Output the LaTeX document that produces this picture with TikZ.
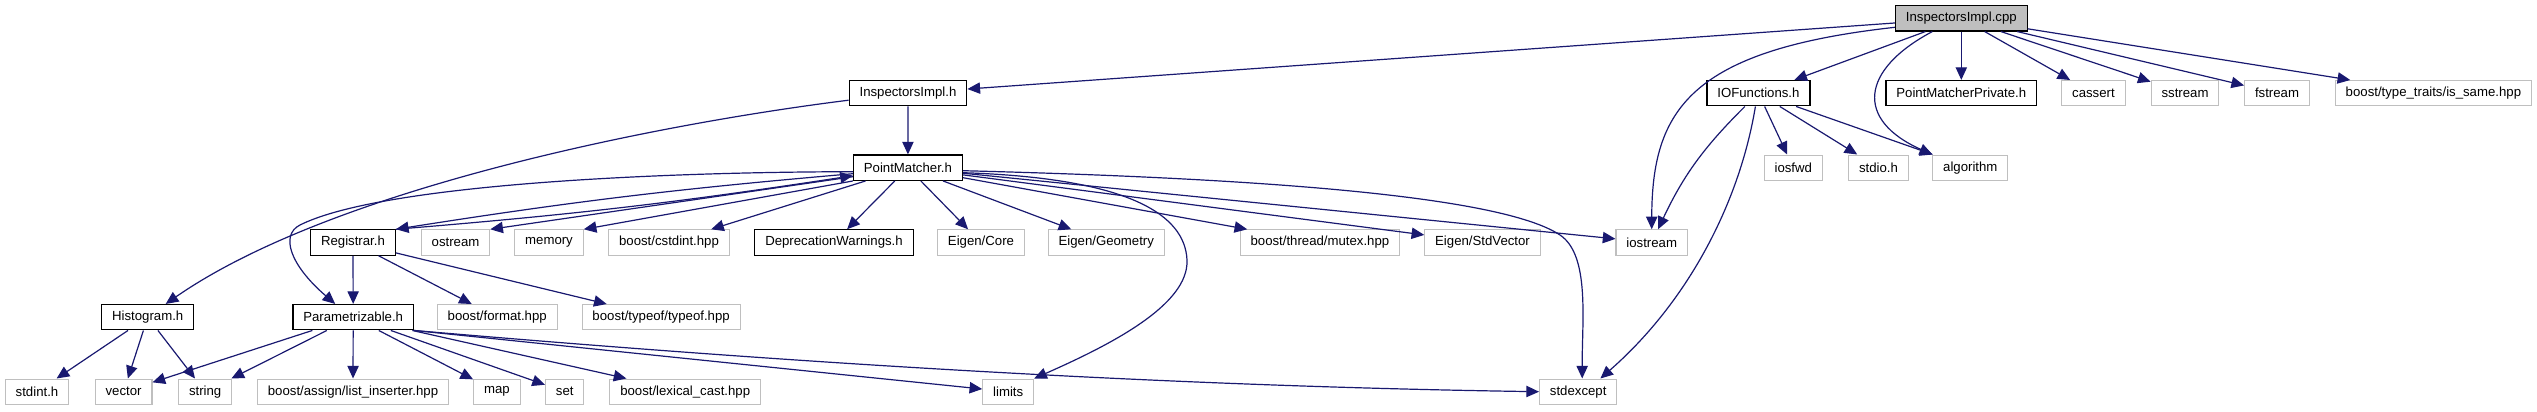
\documentclass[tikz,border=0pt]{standalone}
\usepackage{fontspec}
\setmainfont{Liberation Sans}
\usetikzlibrary{arrows.meta,calc}
\definecolor{incblue}{HTML}{191970}
\definecolor{sysgray}{HTML}{BFBFBF}

\begin{document}
\begin{tikzpicture}[x=0.75pt, y=-0.75pt,
		hdr/.style={draw=black, line width=0.9pt, fill=white, text=black, inner xsep=7.8pt, inner ysep=0pt, minimum height=19pt, font=\fontsize{9.9}{12}\selectfont},
		syshdr/.style={hdr, draw=sysgray, line width=0.8pt},
		srcfile/.style={hdr, fill=sysgray},
		inc/.style={draw=incblue, line width=0.9pt, -{Triangle[length=9.5pt, width=8.5pt]}}]
			\useasboundingbox (0,0) rectangle (2537,411);

			% Define nodes with their coordinates
			\node[srcfile] (cpp) at (1961.3, 18.3) {InspectorsImpl.cpp};

			\node[hdr] (ih) at (908, 93.2) {InspectorsImpl.h};
			\node[hdr] (iof) at (1758.4, 93.2) {IOFunctions.h};
			\node[hdr] (pmp) at (1961.3, 93.2) {PointMatcherPrivate.h};
			\node[syshdr] (cassert) at (2093.4, 93.2) {cassert};
			\node[syshdr] (sstream) at (2185, 93.2) {sstream};
			\node[syshdr] (fstream) at (2277, 93.2) {fstream};
			\node[syshdr] (issame) at (2433.4, 93.2) {boost/type\_traits/is\_same.hpp};

			\node[hdr] (pm) at (907.9, 167.7) {PointMatcher.h};
			\node[syshdr] (iosfwd) at (1793.3, 167.7) {iosfwd};
			\node[syshdr] (stdio) at (1878.5, 167.7) {stdio.h};
			\node[syshdr] (alg) at (1970.3, 167.7) {algorithm};

			\node[hdr] (reg) at (353, 242.5) {Registrar.h};
			\node[syshdr] (ostream) at (455.5, 242.5) {ostream};
			\node[syshdr] (memory) at (549, 242.5) {memory};
			\node[syshdr] (cstdint) at (669, 242.5) {boost/cstdint.hpp};
			\node[hdr] (depr) at (834, 242.5) {DeprecationWarnings.h};
			\node[syshdr] (ecore) at (981, 242.5) {Eigen/Core};
			\node[syshdr] (egeom) at (1106.3, 242.5) {Eigen/Geometry};
			\node[syshdr] (mutex) at (1319.9, 242.5) {boost/thread/mutex.hpp};
			\node[syshdr] (stdvec) at (1482.5, 242.5) {Eigen/StdVector};
			\node[syshdr] (ios) at (1651.7, 242.5) {iostream};

			\node[hdr] (hist) at (147.7, 317.2) {Histogram.h};
			\node[hdr] (param) at (353.2, 317.2) {Parametrizable.h};
			\node[syshdr] (format) at (497.2, 317.2) {boost/format.hpp};
			\node[syshdr] (typeof) at (661.1, 317.2) {boost/typeof/typeof.hpp};

			\node[syshdr] (stdint) at (37, 391.7) {stdint.h};
			\node[syshdr] (vector) at (123.6, 391.7) {vector};
			\node[syshdr] (string) at (205.2, 391.7) {string};
			\node[syshdr] (listins) at (353, 391.7) {boost/assign/list\_inserter.hpp};
			\node[syshdr] (map) at (496.9, 391.7) {map};
			\node[syshdr] (set) at (564.7, 391.7) {set};
			\node[syshdr] (lexcast) at (685.2, 391.7) {boost/lexical\_cast.hpp};
			\node[syshdr] (limits) at (1008.2, 391.7) {limits};
			\node[syshdr] (stdexc) at (1578.2, 391.7) {stdexcept};

			% Draw include edges
			\draw[inc] (cpp) -- (ih);
			\draw[inc] ($(cpp.west)+(0,9)$) .. controls (1690,50) and (1652,110) .. (ios.north);
			\draw[inc] (cpp) -- (iof);
			\draw[inc] ($(cpp.south)+(-29,0)$) .. controls (1860,70) and (1855,120) .. (alg.north west);
			\draw[inc] (cpp) -- (pmp);
			\draw[inc] (cpp) -- (cassert);
			\draw[inc] (cpp) -- (sstream);
			\draw[inc] (cpp) -- (fstream);
			\draw[inc] (cpp) -- (issame);

			\draw[inc] (ih) -- (pm);
			\draw[inc] ($(ih.west)+(0,7)$) .. controls (650,125) and (330,190) .. ($(hist.north)+(18,0)$);

			\draw[inc] ($(pm.west)+(0,4)$) .. controls (650,172) and (380,185) .. (300,225) .. controls (280,235) and (290,265) .. ($(param.north)+(-18,0)$);
			\draw[inc] ($(pm.west)+(0,6)$) to[bend right=2] (reg.north east);
			\draw[inc] (reg.north east) to[bend right=2] ($(pm.west)+(0,8)$);
			\draw[inc] ($(pm.west)+(0,9)$) -- (ostream.north east);
			\draw[inc] (pm.south west) -- (memory.north east);
			\draw[inc] (pm) -- (cstdint);
			\draw[inc] (pm) -- (depr);
			\draw[inc] (pm) -- (ecore);
			\draw[inc] (pm) -- (egeom);
			\draw[inc] (pm) -- (mutex);
			\draw[inc] (pm) -- (stdvec);
			\draw[inc] (pm) -- (ios);
			\draw[inc] ($(pm.east)+(0,5)$) .. controls (1130,178) and (1185,215) .. (1187,260) .. controls (1189,305) and (1110,345) .. (limits.north east);
			\draw[inc] ($(pm.east)+(0,3)$) .. controls (1250,178) and (1500,195) .. (1560,235) .. controls (1590,255) and (1582,320) .. ($(stdexc.north)+(4,0)$);

			\draw[inc] (reg) -- (param);
			\draw[inc] (reg) -- (format);
			\draw[inc] (reg) -- (typeof);

			\draw[inc] (hist) -- (stdint);
			\draw[inc] (hist) -- (vector);
			\draw[inc] (hist) -- (string);

			\draw[inc] (param) -- (vector);
			\draw[inc] (param) -- (string);
			\draw[inc] (param) -- (listins);
			\draw[inc] (param) -- (map);
			\draw[inc] (param) -- (set);
			\draw[inc] (param) -- (lexcast);
			\draw[inc] (param.south east) -- (limits);
			\draw[inc] (param.south east) .. controls (700,355) and (1100,385) .. (stdexc.west);

			\draw[inc] (iof) to[bend right=10] (ios);
			\draw[inc] ($(iof.south)+(-3,0)$) .. controls (1740,200) and (1690,300) .. ($(stdexc.north east)+(-17,0)$);
			\draw[inc] (iof) -- (iosfwd);
			\draw[inc] (iof) -- (stdio);
			\draw[inc] (iof) -- (alg);

		\end{tikzpicture}
\end{document}
